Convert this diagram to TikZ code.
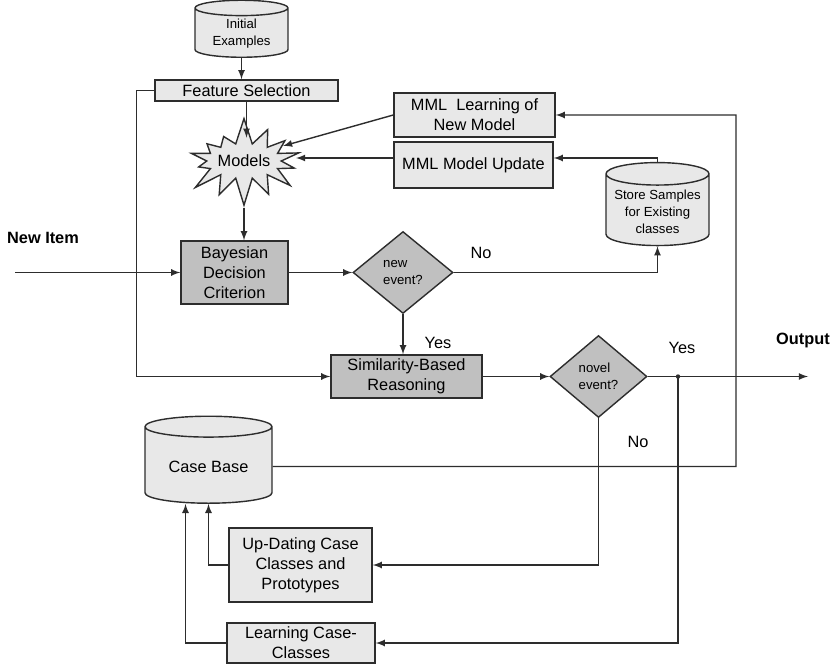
\documentclass[tikz,border=0pt]{standalone}
\usepackage{fontspec}
\setmainfont{Liberation Sans}
\usetikzlibrary{shapes.geometric,shapes.symbols}

\definecolor{boxgray}{RGB}{232,232,232}
\definecolor{decgray}{RGB}{192,192,192}
\definecolor{linegray}{RGB}{45,45,45}
\newcommand{\mdtxt}{\fontsize{9.3}{11.4}\selectfont}
\newcommand{\smtxt}{\fontsize{7.5}{9.6}\selectfont}

\tikzset{
	box/.style={draw=linegray, fill=boxgray, line width=0.8pt, align=center, inner sep=1pt, font=\mdtxt},
	decbox/.style={box, fill=decgray},
	store/.style={cylinder, shape border rotate=90, aspect=0.25, draw=linegray, fill=boxgray, line width=0.8pt, align=center, inner sep=1pt, font=\mdtxt},
	question/.style={diamond, draw=linegray, fill=decgray, line width=0.8pt, align=left, inner sep=0pt, font=\smtxt},
	arr/.style={-latex, line width=0.8pt, draw=linegray},
	lbl/.style={font=\mdtxt, inner sep=0pt}
}

\begin{document}
\begin{tikzpicture}[x=0.02cm, y=-0.02cm]
		\useasboundingbox (0,0) rectangle (835,665);
		
		% upper part
		\node[store, font=\smtxt, minimum width=1.86cm, minimum height=1.14cm] (init) at (241.5,34) {Initial\\Examples};
		\node[box, minimum width=3.66cm, minimum height=0.42cm] (feat) at (246.5,90.5) {Feature Selection};
		\node[starburst, starburst points=14, starburst point height=0.55cm, random starburst=7, draw=linegray, fill=boxgray, line width=0.8pt, font=\mdtxt, minimum width=2.36cm, minimum height=1.8cm, inner sep=0pt] (models) at (244,161) {Models};
		\node[box, minimum width=3.22cm, minimum height=0.88cm] (mmlnew) at (474.5,115) {MML~ Learning of\\New Model};
		\node[box, minimum width=3.18cm, minimum height=0.92cm] (mmlupd) at (473.5,165) {\\[-4pt]MML Model Update};
		\node[store, font=\smtxt, minimum width=2.06cm, minimum height=1.66cm] (samples) at (657.5,211.5) {Store Samples\\for Existing\\classes};
		
		% decisions
		\node[decbox, minimum width=2.14cm, minimum height=1.26cm] (bayes) at (234.5,272.5) {Bayesian\\Decision\\Criterion};
		\node[question, minimum width=2cm, minimum height=1.64cm] (newev) at (403,272.5) {new\\event?};
		\node[decbox, minimum width=3.02cm, minimum height=0.86cm] (simil) at (406.5,376.5) {Similarity-Based\\Reasoning};
		\node[question, minimum width=1.94cm, minimum height=1.64cm] (novel) at (598.5,376.5) {novel\\event?};
		
		% case base
		\node[store, minimum width=2.54cm, minimum height=1.74cm] (cases) at (208.5,466.5) {Case Base};
		\node[box, minimum width=2.86cm, minimum height=1.48cm] (upd) at (300.5,565) {Up-Dating Case\\Classes and\\Prototypes};
		\node[box, minimum width=2.96cm, minimum height=0.8cm] (learn) at (301,643) {Learning Case-\\Classes};
		
		% labels
		\node[lbl, font=\mdtxt\bfseries] (newitem) at (43,238) {New Item};
		\node[lbl, font=\mdtxt\bfseries] (output) at (803,340) {Output};
		\node[lbl] (no1) at (481,253) {No};
		\node[lbl] (yes1) at (438,343) {Yes};
		\node[lbl] (yes2) at (682,348) {Yes};
		\node[lbl] (no2) at (638,442) {No};
		
		% free ends
		\coordinate (start) at (15,272.5);
		\coordinate (end) at (808,376.5);
		\coordinate (split) at (678,376.5);
		\coordinate (m1) at (283,146);
		\coordinate (m2) at (296,158);
		\coordinate (corner) at (736,466.5);
		
		% connectors
		\draw[arr] (init.south) -- (init.south |- feat.north);
		\draw[arr] (feat.south) -- ++(0,36);
		\draw[arr] (mmlnew.west) -- (m1);
		\draw[arr] (m2 -| mmlupd.west) -- (m2);
		\draw[arr] (samples.north) |- (m2 -| mmlupd.east);
		\draw[arr] (models.south) -- (models.south |- bayes.north);
		\draw[arr] (start) -- (bayes.west);
		\draw[arr] (bayes.east) -- (newev.west);
		\draw[arr] (newev.east) -| (samples.south);
		\draw[arr] (newev.south) -- (newev.south |- simil.north);
		\draw[arr] (feat.west) -- ++(-18,0) |- (simil.west);
		\draw[arr] (simil.east) -- (novel.west);
		\draw[arr] (novel.east) -- (end);
		\fill[linegray] (split) circle (2.2);
		\draw[arr] (split) |- (learn.east);
		\draw[arr] (novel.south) |- (upd.east);
		\draw[arr] (cases.east) -- (corner) |- (mmlnew.east);
		\draw[arr] (upd.west) -| (cases.south);
		\draw[arr] (learn.west) -| ([xshift=-0.46cm]cases.south);
		
	\end{tikzpicture}
\end{document}
